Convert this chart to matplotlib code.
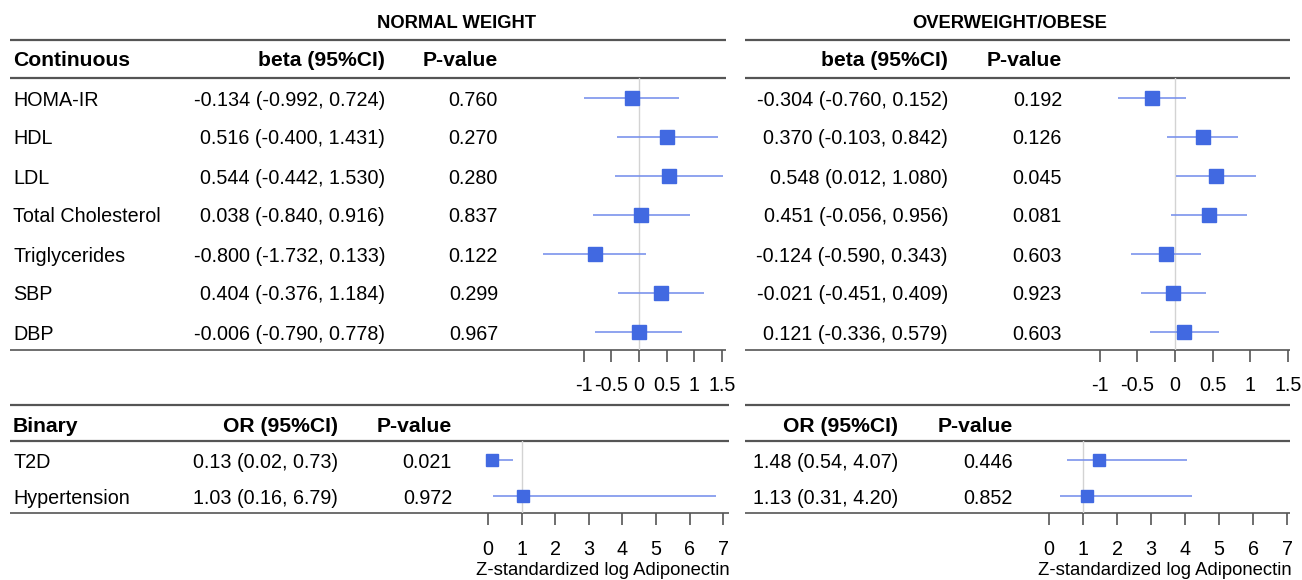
import matplotlib.pyplot as plt
import matplotlib.ticker as mticker

plt.rcParams['font.family'] = ['Liberation Sans', 'DejaVu Sans']

# continuous outcomes (beta, 95% CI)
cont_labels = ["HOMA-IR", "HDL", "LDL", "Total Cholesterol", "Triglycerides", "SBP", "DBP"]
nw_beta = [-0.134, 0.516, 0.544, 0.038, -0.800, 0.404, -0.006]
nw_lo = [-0.992, -0.400, -0.442, -0.840, -1.732, -0.376, -0.790]
nw_hi = [0.724, 1.431, 1.530, 0.916, 0.133, 1.184, 0.778]
nw_p = ["0.760", "0.270", "0.280", "0.837", "0.122", "0.299", "0.967"]
ow_beta = [-0.304, 0.370, 0.548, 0.451, -0.124, -0.021, 0.121]
ow_lo = [-0.760, -0.103, 0.012, -0.056, -0.590, -0.451, -0.336]
ow_hi = [0.152, 0.842, 1.080, 0.956, 0.343, 0.409, 0.579]
ow_p = ["0.192", "0.126", "0.045", "0.081", "0.603", "0.923", "0.603"]
cont_ticks = [-1, -0.5, 0, 0.5, 1, 1.5]

# binary outcomes (OR, 95% CI)
bin_labels = ["T2D", "Hypertension"]
nw_or = [0.13, 1.03]
nw_or_lo = [0.02, 0.16]
nw_or_hi = [0.73, 6.79]
nw_or_p = ["0.021", "0.972"]
ow_or = [1.48, 1.13]
ow_or_lo = [0.54, 0.31]
ow_or_hi = [4.07, 4.20]
ow_or_p = ["0.446", "0.852"]
bin_ticks = [0, 1, 2, 3, 4, 5, 6, 7]

W, H = 1302, 580
FS = 14.2     # body text
HFS = 15.2    # header text
SQ = '#4169E1'
CI = '#7B93EC'
RULE = '#555555'
DY = 2        # small downward nudge for text centres

fig = plt.figure(figsize=(W / 100, H / 100), dpi=100)

# overlay axes in pixel coords for table text and rules
bg = fig.add_axes([0, 0, 1, 1])
bg.set_xlim(0, W)
bg.set_ylim(H, 0)
bg.axis('off')


def txt(x, y, s, ha='left', bold=False):
    bg.text(x, y + DY, s, ha=ha, va='center', fontsize=HFS if bold else FS,
            fontweight='bold' if bold else 'normal')


def rules(x0, x1, ys, lws):
    for y, lw in zip(ys, lws):
        bg.plot([x0, x1], [y, y], color=RULE, lw=lw, solid_capstyle='butt', zorder=5)


def forest(box, xlim, ylim, est, lo, hi, ref, ticks, ms, xlabel=None, pad=10):
    # box = (left, top, right, bottom) in pixels
    l, t, r, b = box
    ax = fig.add_axes([l / W, 1 - b / H, (r - l) / W, (b - t) / H])
    ax.patch.set_alpha(0)
    rows = range(len(est))
    ax.axvline(ref, color='#D3D3D3', lw=1, zorder=0)
    ax.hlines(rows, lo, hi, color=CI, lw=1.2, zorder=1)
    ax.plot(est, rows, 's', color=SQ, ms=ms, mec=SQ, zorder=2)
    ax.set_xlim(*xlim)
    ax.set_ylim(*ylim)
    for s in ax.spines.values():
        s.set_visible(False)
    ax.set_yticks([])
    ax.set_xticks(ticks)
    ax.xaxis.set_major_formatter(mticker.FuncFormatter(lambda v, p: f"{v:g}"))
    ax.tick_params(axis='x', length=8.5, width=1.2, color=RULE, pad=pad, labelsize=FS)
    if xlabel:
        ax.set_xlabel(xlabel, fontsize=13.3, labelpad=2)
    return ax


# ---- titles
bg.text(457, 23, "NORMAL WEIGHT", ha='center', va='center', fontsize=13.2, fontweight='bold')
bg.text(1010, 23, "OVERWEIGHT/OBESE", ha='center', va='center', fontsize=13.2, fontweight='bold')

# ---- continuous table
row_y = [98 + 39 * i for i in range(len(cont_labels))]
txt(13, 59, "Continuous", bold=True)
txt(385, 59, "beta (95%CI)", 'right', True)
txt(498, 59, "P-value", 'right', True)
txt(948, 59, "beta (95%CI)", 'right', True)
txt(1062, 59, "P-value", 'right', True)
for i, y in enumerate(row_y):
    txt(13, y, cont_labels[i])
    txt(385, y, f"{nw_beta[i]:.3f} ({nw_lo[i]:.3f}, {nw_hi[i]:.3f})", 'right')
    txt(498, y, nw_p[i], 'right')
    txt(948, y, f"{ow_beta[i]:.3f} ({ow_lo[i]:.3f}, {ow_hi[i]:.3f})", 'right')
    txt(1062, y, ow_p[i], 'right')
rules(10, 726, [40, 78, 350], [1.6, 1.6, 1.2])
rules(745, 1290, [40, 78, 350], [1.6, 1.6, 1.2])

n = len(cont_labels)
forest((530, 78, 726, 350), (-1.975, 1.576), (n - 1 + 0.46, -0.513),
       nw_beta, nw_lo, nw_hi, 0, cont_ticks, 9.5)
forest((1090, 78, 1290, 350), (-1.129, 1.527), (n - 1 + 0.46, -0.513),
       ow_beta, ow_lo, ow_hi, 0, cont_ticks, 9.5)

# ---- binary table
brow_y = [460, 496]
txt(13, 424, "Binary", bold=True)
txt(338, 424, "OR (95%CI)", 'right', True)
txt(452, 424, "P-value", 'right', True)
txt(898, 424, "OR (95%CI)", 'right', True)
txt(1013, 424, "P-value", 'right', True)
for i, y in enumerate(brow_y):
    txt(13, y, bin_labels[i])
    txt(338, y, f"{nw_or[i]:.2f} ({nw_or_lo[i]:.2f}, {nw_or_hi[i]:.2f})", 'right')
    txt(452, y, nw_or_p[i], 'right')
    txt(898, y, f"{ow_or[i]:.2f} ({ow_or_lo[i]:.2f}, {ow_or_hi[i]:.2f})", 'right')
    txt(1013, y, ow_or_p[i], 'right')
rules(10, 729, [405, 441, 513], [1.6, 1.6, 1.2])
rules(745, 1290, [405, 441, 513], [1.6, 1.6, 1.2])

forest((480, 441, 726, 513), (-0.238, 7.083), (1.472, -0.528),
       nw_or, nw_or_lo, nw_or_hi, 1, bin_ticks, 9, "Z-standardized log Adiponectin", pad=11)
forest((1040, 441, 1290, 513), (-0.265, 7.088), (1.472, -0.528),
       ow_or, ow_or_lo, ow_or_hi, 1, bin_ticks, 9, "Z-standardized log Adiponectin", pad=11)

fig.savefig("out.png", dpi=100)
